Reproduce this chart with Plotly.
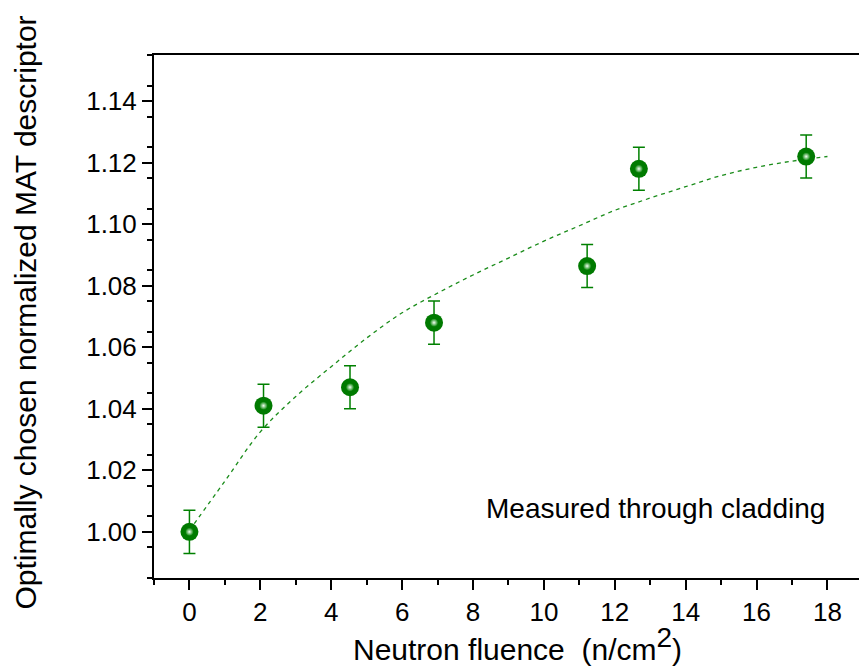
import plotly.graph_objects as go

# Measured data
fluence = [0.0, 2.09, 4.53, 6.90, 11.22, 12.68, 17.40]
descriptor = [1.000, 1.041, 1.047, 1.068, 1.0864, 1.118, 1.122]
errors = [0.007, 0.007, 0.007, 0.007, 0.007, 0.007, 0.007]

# Fitted trend line
fit_x = [0, 1, 2, 3, 4, 5, 6, 7, 8, 9, 10, 11, 12, 13, 14, 15, 16, 17, 18]
fit_y = [1.0005, 1.0165, 1.0325, 1.0440, 1.0537, 1.0630, 1.0712, 1.0776, 1.0835,
         1.0890, 1.0945, 1.0995, 1.1045, 1.1085, 1.1122, 1.1158, 1.1185, 1.1205, 1.1220]

x_ticks = [0, 2, 4, 6, 8, 10, 12, 14, 16, 18]
y_ticks = [1.00, 1.02, 1.04, 1.06, 1.08, 1.10, 1.12, 1.14]

GREEN = "#008000"
FONT = "Liberation Sans, Arial, sans-serif"

fig = go.Figure()

fig.add_trace(go.Scatter(
    x=fit_x, y=fit_y, mode="lines",
    line=dict(color="#1a8c1a", width=1.3, dash="4px,4px", shape="spline"),
    hoverinfo="skip", showlegend=False,
))

fig.add_trace(go.Scatter(
    x=fluence, y=descriptor, mode="markers",
    error_y=dict(type="data", array=errors, visible=True, color=GREEN,
                 thickness=1.5, width=6),
    marker=dict(size=18, color="#007a00", line=dict(width=0)),
    showlegend=False,
))

fig.add_trace(go.Scatter(
    x=fluence, y=descriptor, mode="markers",
    marker=dict(size=8, color="#0a850a",
                gradient=dict(type="radial", color="#f4fff4"),
                line=dict(width=0)),
    hoverinfo="skip", showlegend=False,
))

fig.add_annotation(
    x=13.14, y=1.0077, xref="x", yref="y",
    xanchor="center", yanchor="middle",
    text="Measured through cladding", showarrow=False,
    font=dict(family=FONT, size=28, color="black"),
)

fig.add_annotation(
    x=0.516, y=-0.127, xref="paper", yref="paper",
    xanchor="center", yanchor="middle",
    text="Neutron fluence  (n/cm<sup><span style=\"font-size:28px\">2</span></sup>)",
    showarrow=False,
    font=dict(family=FONT, size=30, color="black"),
)

fig.add_annotation(
    x=-0.1816, y=0.5076, xref="paper", yref="paper",
    xanchor="center", yanchor="middle",
    text="Optimally chosen normalized MAT descriptor", showarrow=False,
    textangle=-90,
    font=dict(family=FONT, size=30, color="black"),
)

fig.update_xaxes(
    range=[-1, 18.89], showgrid=False, zeroline=False,
    showline=True, linecolor="black", linewidth=2, mirror=True,
    ticks="outside", ticklen=10, tickwidth=2, tickcolor="black",
    tickvals=x_ticks, ticktext=[str(v) for v in x_ticks],
    tickfont=dict(family=FONT, size=26, color="black"),
    minor=dict(dtick=1, tick0=0, ticks="outside", ticklen=5, tickwidth=2,
               tickcolor="black", showgrid=False),
)
fig.update_yaxes(
    range=[0.985, 1.155], showgrid=False, zeroline=False,
    showline=True, linecolor="black", linewidth=2, mirror=False,
    ticks="outside", ticklen=10, tickwidth=2, tickcolor="black",
    tickvals=y_ticks, ticktext=[f"{v:.2f}" for v in y_ticks],
    tickfont=dict(family=FONT, size=26, color="black"),
    minor=dict(dtick=0.01, tick0=0.995, ticks="outside", ticklen=5, tickwidth=2,
               tickcolor="black", showgrid=False),
)

fig.update_layout(
    width=859, height=671,
    margin=dict(l=154, r=0, t=55, b=93),
    plot_bgcolor="white", paper_bgcolor="white",
    font=dict(family=FONT),
)

fig.write_html(
    "out.html",
    config={"displayModeBar": False},
    post_script="document.body.style.margin='0px';document.body.style.overflow='hidden';",
)
